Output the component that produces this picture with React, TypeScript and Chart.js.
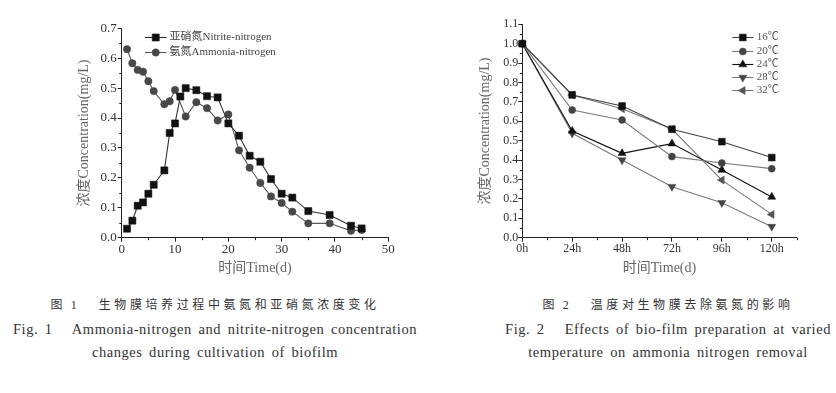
import React, { useEffect, useRef } from 'react';
import { Chart, registerables } from 'chart.js';
import { drawPoint } from 'chart.js/helpers';

Chart.register(...registerables);

// ---------- Figure 1 data ----------
const nitriteDays = [1, 2, 3, 4, 5, 6, 8, 9, 10, 11, 12, 14, 16, 18, 20, 22, 24, 26, 28, 30, 32, 35, 39, 43, 45];
const nitriteValues = [0.03, 0.057, 0.107, 0.118, 0.147, 0.177, 0.225, 0.35, 0.382, 0.472, 0.5, 0.493, 0.473, 0.469, 0.382, 0.341, 0.274, 0.254, 0.196, 0.147, 0.134, 0.089, 0.076, 0.04, 0.031];
const ammoniaDays = [1, 2, 3, 4, 5, 6, 8, 9, 10, 12, 14, 16, 18, 20, 22, 24, 26, 28, 30, 32, 35, 39, 43, 45];
const ammoniaValues = [0.63, 0.583, 0.561, 0.555, 0.523, 0.49, 0.446, 0.456, 0.494, 0.405, 0.453, 0.433, 0.392, 0.412, 0.292, 0.234, 0.183, 0.138, 0.116, 0.087, 0.048, 0.048, 0.023, 0.026];
const fig1Labels = ['亚硝氮Nitrite-nitrogen', '氨氮Ammonia-nitrogen'];

// ---------- Figure 2 data ----------
const hours = [0, 24, 48, 72, 96, 120];
const tempLabels = ['16℃', '20℃', '24℃', '28℃', '32℃'];
const temp16 = [1.0, 0.736, 0.679, 0.559, 0.495, 0.413];
const temp20 = [1.0, 0.658, 0.607, 0.418, 0.385, 0.356];
const temp24 = [1.0, 0.55, 0.435, 0.485, 0.349, 0.21];
const temp28 = [1.0, 0.538, 0.4, 0.263, 0.18, 0.057];
const temp32 = [1.0, 0.736, 0.665, 0.56, 0.297, 0.12];

const SERIF = "'Liberation Serif', 'Noto Sans CJK SC', serif";

const pts = (xs: number[], ys: number[]) => xs.map((x, i) => ({ x, y: ys[i] }));

const lineLegend = {
  id: 'lineLegend',
  afterDatasetsDraw(chart: any, _args: any, opts: any) {
    if (!opts || !opts.show) return;
    const { ctx, chartArea } = chart;
    ctx.save();
    ctx.font = opts.font;
    ctx.textBaseline = 'middle';
    ctx.textAlign = 'left';
    chart.data.datasets.forEach((ds: any, i: number) => {
      const y = Math.round(chartArea.top + opts.top + i * opts.rowHeight) + 0.5;
      const x0 = chartArea.left + opts.left;
      ctx.strokeStyle = ds.borderColor;
      ctx.lineWidth = ds.borderWidth;
      ctx.beginPath();
      ctx.moveTo(x0, y);
      ctx.lineTo(x0 + opts.lineLength, y);
      ctx.stroke();
      ctx.fillStyle = ds.pointBackgroundColor;
      ctx.strokeStyle = ds.pointBorderColor;
      ctx.lineWidth = ds.pointBorderWidth;
      drawPoint(ctx, {
        pointStyle: ds.pointStyle,
        rotation: ds.pointRotation || 0,
        radius: ds.pointRadius,
        borderWidth: ds.pointBorderWidth,
      } as any, x0 + opts.lineLength / 2, y);
      ctx.fillStyle = opts.color;
      ctx.fillText(ds.label, x0 + opts.lineLength + opts.gap, y);
    });
    ctx.restore();
  },
};

const minorTicks = {
  id: 'minorTicks',
  afterDraw(chart: any, _args: any, opts: any) {
    if (!opts || !opts.show) return;
    const { ctx } = chart;
    ctx.save();
    ctx.strokeStyle = opts.color;
    ctx.lineWidth = 1;
    ['x', 'y'].forEach((id) => {
      const step = opts[id];
      if (!step) return;
      const scale = chart.scales[id];
      for (let v = scale.min + step; v <= scale.max + 1e-9; v += 2 * step) {
        const p = Math.round(scale.getPixelForValue(v)) + 0.5;
        ctx.beginPath();
        if (id === 'x') {
          ctx.moveTo(p, scale.top);
          ctx.lineTo(p, scale.top + opts.length);
        } else {
          ctx.moveTo(scale.right, p);
          ctx.lineTo(scale.right - opts.length, p);
        }
        ctx.stroke();
      }
    });
    ctx.restore();
  },
};

function axisCommon(tickFont: number) {
  return {
    border: { display: true, color: '#222', width: 1 },
    grid: { display: true, drawOnChartArea: false, drawTicks: true, tickLength: 4, tickColor: '#222' },
    ticks: { color: '#333', font: { family: SERIF, size: tickFont }, padding: 1 },
  };
}

function makeFig1(canvas: HTMLCanvasElement) {
  return new Chart(canvas, {
    type: 'line',
    data: {
      datasets: [
        {
          label: fig1Labels[0],
          data: pts(nitriteDays, nitriteValues),
          borderColor: '#333',
          borderWidth: 1.1,
          pointStyle: 'rect',
          pointRadius: 5,
          pointBackgroundColor: '#111',
          pointBorderColor: '#111',
          pointBorderWidth: 0.5,
          clip: false,
        } as any,
        {
          label: fig1Labels[1],
          data: pts(ammoniaDays, ammoniaValues),
          borderColor: '#5a5a5a',
          borderWidth: 1.1,
          pointStyle: 'circle',
          pointRadius: 3.7,
          pointBackgroundColor: '#484848',
          pointBorderColor: '#484848',
          pointBorderWidth: 0.5,
          clip: false,
        } as any,
      ],
    },
    options: {
      animation: false,
      responsive: false,
      devicePixelRatio: 1,
      layout: { padding: { left: 0, top: 28.3, right: 29.7, bottom: 0 } },
      plugins: {
        legend: { display: false },
        tooltip: { enabled: false },
        lineLegend: { show: true, left: 23.3, top: 8.4, rowHeight: 15, lineLength: 21.5, gap: 3, font: `11px ${SERIF}`, color: '#444' },
        minorTicks: { show: true, x: 5, y: 0.05, length: 2.5, color: '#222' },
      } as any,
      scales: {
        x: {
          type: 'linear',
          min: 0,
          max: 50,
          ...axisCommon(13),
          ticks: { color: '#333', font: { family: SERIF, size: 13 }, padding: 0, stepSize: 10, callback: (v: any) => String(v) },
          title: { display: true, text: '时间Time(d)', color: '#666', font: { family: SERIF, size: 14 }, padding: { top: 0, bottom: 3.6 } },
          afterFit: (s: any) => { s.height = 42.3; },
        } as any,
        y: {
          type: 'linear',
          min: 0,
          max: 0.7,
          ...axisCommon(13),
          ticks: { color: '#333', font: { family: SERIF, size: 13 }, padding: 1, stepSize: 0.1, callback: (v: any) => Number(v).toFixed(1) },
          title: { display: true, text: '浓度Concentration(mg/L)', color: '#666', font: { family: SERIF, size: 14 }, padding: { top: 75.6, bottom: 0 } },
          afterFit: (s: any) => { s.width = 121.7; },
        } as any,
      },
    },
    plugins: [lineLegend, minorTicks],
  });
}

function makeFig2(canvas: HTMLCanvasElement) {
  const series = [temp16, temp20, temp24, temp28, temp32];
  const styles = [
    { borderColor: '#444', pointStyle: 'rect', pointRadius: 4.8, fill: '#111', rot: 0 },
    { borderColor: '#7a7a7a', pointStyle: 'circle', pointRadius: 3.5, fill: '#444', rot: 0 },
    { borderColor: '#111', pointStyle: 'triangle', pointRadius: 4.6, fill: '#111', rot: 0 },
    { borderColor: '#7a7a7a', pointStyle: 'triangle', pointRadius: 4.6, fill: '#444', rot: 180 },
    { borderColor: '#7a7a7a', pointStyle: 'triangle', pointRadius: 4.6, fill: '#555', rot: -90 },
  ];
  return new Chart(canvas, {
    type: 'line',
    data: {
      datasets: series.map((vals, i) => ({
        label: tempLabels[i],
        data: pts(hours, vals),
        borderColor: styles[i].borderColor,
        borderWidth: 1.1,
        pointStyle: styles[i].pointStyle,
        pointRadius: styles[i].pointRadius,
        pointRotation: styles[i].rot,
        pointBackgroundColor: styles[i].fill,
        pointBorderColor: styles[i].fill,
        pointBorderWidth: 0.5,
        clip: false,
      })) as any,
    },
    options: {
      animation: false,
      responsive: false,
      devicePixelRatio: 1,
      layout: { padding: { left: 0, top: 24.3, right: 39.3, bottom: 0 } },
      plugins: {
        legend: { display: false },
        tooltip: { enabled: false },
        lineLegend: { show: true, left: 210, top: 13, rowHeight: 13.2, lineLength: 21, gap: 3.5, font: `11px ${SERIF}`, color: '#555' },
        minorTicks: { show: true, x: 12, y: 0.05, length: 2.5, color: '#222' },
      } as any,
      scales: {
        x: {
          type: 'linear',
          min: 0,
          max: 132,
          ...axisCommon(12),
          ticks: { color: '#333', font: { family: SERIF, size: 12 }, padding: 0, stepSize: 24, includeBounds: false, callback: (v: any) => `${v}h` },
          title: { display: true, text: '时间Time(d)', color: '#666', font: { family: SERIF, size: 14 }, padding: { top: 0, bottom: 3.6 } },
          afterFit: (s: any) => { s.height = 42.3; },
        } as any,
        y: {
          type: 'linear',
          min: 0,
          max: 1.1,
          ...axisCommon(12),
          ticks: { color: '#333', font: { family: SERIF, size: 12 }, padding: 0, stepSize: 0.1, callback: (v: any) => Number(v).toFixed(1) },
          title: { display: true, text: '浓度Concentration(mg/L)', color: '#666', font: { family: SERIF, size: 14 }, padding: { top: 46.6, bottom: 0 } },
          afterFit: (s: any) => { s.width = 92.3; },
        } as any,
      },
    },
    plugins: [lineLegend, minorTicks],
  });
}

const captionBase: React.CSSProperties = {
  position: 'absolute',
  whiteSpace: 'pre',
  transform: 'translate(-50%, -50%)',
  color: '#333',
  fontFamily: SERIF,
  lineHeight: 1,
};

function Caption({ x, y, text, size, spacing, word = 0 }: { x: number; y: number; text: string; size: number; spacing: number; word?: number }) {
  return (
    <div style={{ ...captionBase, left: x, top: y, fontSize: size, letterSpacing: spacing, wordSpacing: word }}>{text}</div>
  );
}

export default function App() {
  const ref1 = useRef<HTMLCanvasElement>(null);
  const ref2 = useRef<HTMLCanvasElement>(null);
  useEffect(() => {
    const c1 = makeFig1(ref1.current!);
    const c2 = makeFig2(ref2.current!);
    return () => {
      c1.destroy();
      c2.destroy();
    };
  }, []);
  return (
    <div style={{ position: 'absolute', left: 0, top: 0, width: 836, height: 393, background: '#fff', overflow: 'hidden' }}>
      <canvas ref={ref1} width={418} height={280} style={{ position: 'absolute', left: 0, top: 0, width: 418, height: 280 }} />
      <canvas ref={ref2} width={406} height={280} style={{ position: 'absolute', left: 430, top: 0, width: 406, height: 280 }} />
      <Caption x={215} y={305} size={12} spacing={3.6} word={-2} text={'图 1    生物膜培养过程中氨氮和亚硝氮浓度变化'} />
      <Caption x={215} y={329} size={14.5} spacing={0.55} word={2.5} text={'Fig. 1   Ammonia-nitrogen and nitrite-nitrogen concentration'} />
      <Caption x={215} y={352} size={14.5} spacing={0.55} word={2.5} text={'changes during cultivation of biofilm'} />
      <Caption x={668} y={305} size={12} spacing={3.6} word={-2} text={'图 2    温度对生物膜去除氨氮的影响'} />
      <Caption x={668} y={329} size={14.5} spacing={0.55} word={2.5} text={'Fig. 2   Effects of bio-film preparation at varied'} />
      <Caption x={668} y={352} size={14.5} spacing={0.55} word={2.5} text={'temperature on ammonia nitrogen removal'} />
    </div>
  );
}
